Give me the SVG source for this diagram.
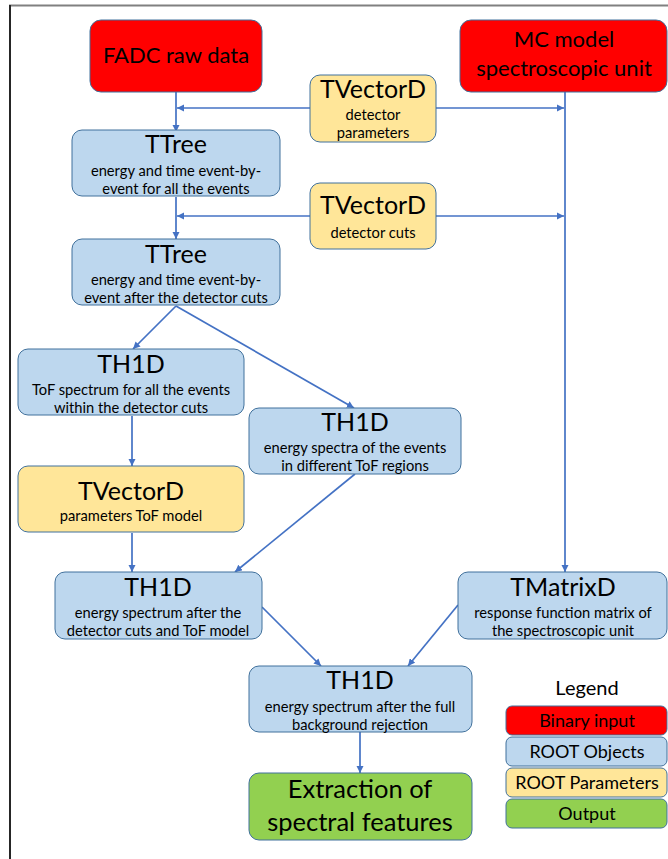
<svg xmlns="http://www.w3.org/2000/svg" width="668" height="859" viewBox="0 0 668 859">
<style>
text{font-family:"Lato","Carlito","Liberation Sans",sans-serif;fill:#000;text-anchor:middle}
.box{stroke:#41719C;stroke-width:1}
.red{fill:#FF0000}
.blue{fill:#BDD7EE}
.yel{fill:#FFE699}
.grn{fill:#92D050}
.t{font-size:25px}
.s{font-size:14.7px}
.big{font-size:22px}
.lg{font-size:18px}
.conn line{stroke:#4472C4;stroke-width:1.7;fill:none;marker-end:url(#ah)}
</style>
<defs>
<marker id="ah" viewBox="0 0 10 10" refX="10" refY="5" markerWidth="4.2" markerHeight="4.2" orient="auto" markerUnits="strokeWidth">
<path d="M0,0 L10,5 L0,10 z" fill="#4472C4"/>
</marker>
</defs>
<rect width="668" height="859" fill="#fff"/>
<line x1="9" y1="5.5" x2="668" y2="5.5" stroke="#808080" stroke-width="2"/>
<line x1="10" y1="5" x2="10" y2="859" stroke="#262626" stroke-width="2"/>

<g class="conn">
<line x1="176" y1="92" x2="176" y2="132"/>
<line x1="310" y1="108" x2="177" y2="108"/>
<line x1="436" y1="108" x2="564" y2="108"/>
<line x1="565" y1="92" x2="565" y2="572"/>
<line x1="176" y1="197" x2="176" y2="239"/>
<line x1="310" y1="216" x2="177" y2="216"/>
<line x1="436" y1="216" x2="564" y2="216"/>
<line x1="176" y1="306" x2="133" y2="349"/>
<line x1="176" y1="306" x2="354" y2="408"/>
<line x1="132" y1="416" x2="132" y2="466"/>
<line x1="132" y1="533" x2="132" y2="572"/>
<line x1="355" y1="474" x2="235" y2="572"/>
<line x1="262" y1="607" x2="321" y2="666"/>
<line x1="458" y1="605" x2="408" y2="666"/>
<line x1="360" y1="732" x2="360" y2="773"/>
</g>

<g id="fadc"><rect class="box red" x="90" y="20" width="172" height="72" rx="11"/><text class="big" x="176" y="63">FADC raw data</text></g>
<g id="mc"><rect class="box red" x="460" y="20" width="207" height="72" rx="11"/><text class="big" x="564" y="47">MC model</text><text class="big" x="564" y="76">spectroscopic unit</text></g>
<g id="vec1"><rect class="box yel" x="310" y="75" width="126" height="67" rx="10"/><text class="t" x="373" y="98">TVectorD</text><text class="s" x="373" y="120">detector</text><text class="s" x="373" y="138">parameters</text></g>
<g id="tree1"><rect class="box blue" x="72" y="130" width="208" height="66" rx="10"/><text class="t" x="176" y="153">TTree</text><text class="s" x="176" y="176">energy and time event-by-</text><text class="s" x="176" y="194">event for all the events</text></g>
<g id="vec2"><rect class="box yel" x="310" y="183" width="126" height="66" rx="10"/><text class="t" x="373" y="214">TVectorD</text><text class="s" x="373" y="238">detector cuts</text></g>
<g id="tree2"><rect class="box blue" x="72" y="239" width="208" height="66" rx="10"/><text class="t" x="176" y="263">TTree</text><text class="s" x="176" y="285">energy and time event-by-</text><text class="s" x="176" y="303">event after the detector cuts</text></g>
<g id="tof"><rect class="box blue" x="18" y="349" width="226" height="66" rx="10"/><text class="t" x="131" y="373">TH1D</text><text class="s" x="131" y="395">ToF spectrum for all the events</text><text class="s" x="131" y="413">within the detector cuts</text></g>
<g id="espectra"><rect class="box blue" x="249" y="408" width="212" height="66" rx="10"/><text class="t" x="355" y="431">TH1D</text><text class="s" x="355" y="453">energy spectra of the events</text><text class="s" x="355" y="471">in different ToF regions</text></g>
<g id="tofmodel"><rect class="box yel" x="18" y="466" width="226" height="66" rx="10"/><text class="t" x="131" y="500">TVectorD</text><text class="s" x="131" y="521">parameters ToF model</text></g>
<g id="espec1"><rect class="box blue" x="55" y="572" width="207" height="67" rx="10"/><text class="t" x="158" y="596">TH1D</text><text class="s" x="158" y="618">energy spectrum after the</text><text class="s" x="158" y="636">detector cuts and ToF model</text></g>
<g id="matrix"><rect class="box blue" x="458" y="572" width="209" height="67" rx="10"/><text class="t" x="563" y="596">TMatrixD</text><text class="s" x="563" y="618">response function matrix of</text><text class="s" x="563" y="636">the spectroscopic unit</text></g>
<g id="espec2"><rect class="box blue" x="249" y="666" width="223" height="66" rx="10"/><text class="t" x="360" y="689">TH1D</text><text class="s" x="360" y="712">energy spectrum after the full</text><text class="s" x="360" y="730">background rejection</text></g>
<g id="extract"><rect class="box grn" x="249" y="773" width="223" height="67" rx="10"/><text x="360" y="798" style="font-size:25.5px">Extraction of</text><text x="360" y="831" style="font-size:25.5px">spectral features</text></g>

<g id="legend">
<text x="587" y="695" style="font-size:20px">Legend</text>
<rect class="box red" x="506" y="706" width="161" height="29" rx="6"/><text class="lg" x="587" y="727">Binary input</text>
<rect class="box blue" x="506" y="737" width="161" height="29" rx="6"/><text class="lg" x="587" y="758">ROOT Objects</text>
<rect class="box yel" x="506" y="768" width="161" height="29" rx="6"/><text class="lg" x="587" y="789">ROOT Parameters</text>
<rect class="box grn" x="506" y="799" width="161" height="29" rx="6"/><text class="lg" x="587" y="820">Output</text>
</g>
</svg>
